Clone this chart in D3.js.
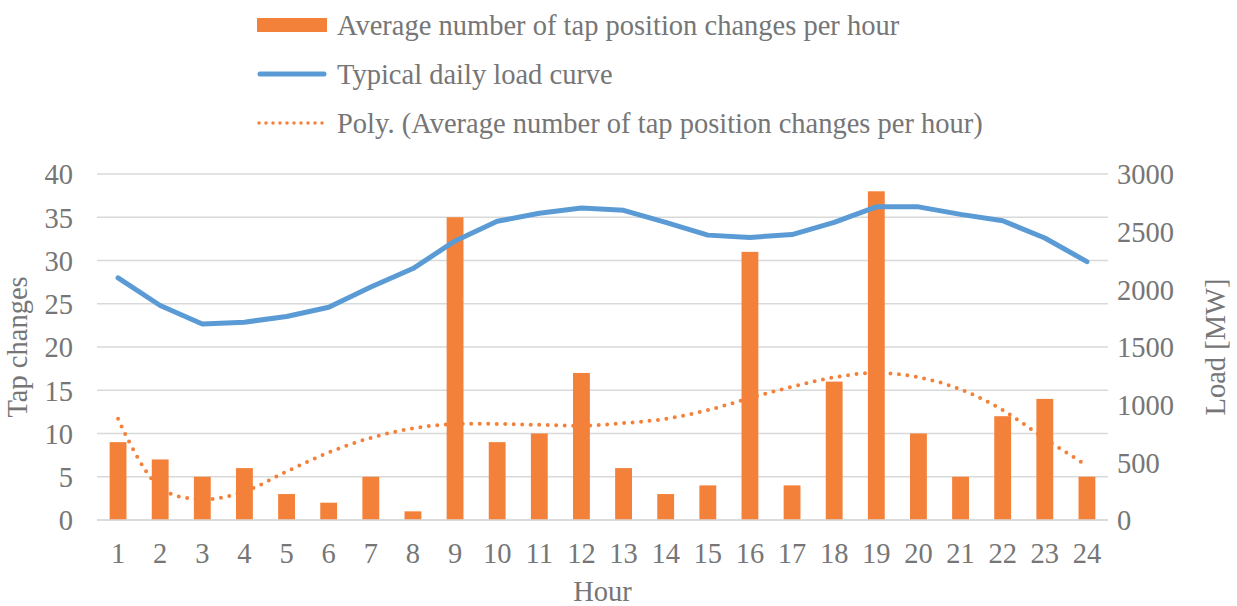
<!DOCTYPE html>
<html>
<head>
<meta charset="utf-8">
<script src="https://cdn.jsdelivr.net/npm/d3@7"></script>
<style>
  body { margin: 0; background: #fff; }
  text { font-family: "Liberation Serif", "Times New Roman", serif; fill: #767676; }
</style>
</head>
<body>
<div id="chart"></div>
<script>
// data
var hours = ["1","2","3","4","5","6","7","8","9","10","11","12","13","14","15","16","17","18","19","20","21","22","23","24"];
var tapChanges = [9,7,5,6,3,2,5,1,35,9,10,17,6,3,4,31,4,16,38,10,5,12,14,5];
var loadMW = [2100,1860,1700,1715,1765,1845,2020,2180,2420,2590,2660,2705,2685,2580,2470,2450,2475,2580,2715,2715,2650,2595,2445,2240];
var polyTrend = [11.7,3.7,2.4,3.3,5.6,7.8,9.5,10.6,11.1,11.1,11.0,10.9,11.2,11.7,12.7,14.1,15.4,16.5,17.0,16.5,15.1,12.7,9.4,6.3];
var leftTicks = [0,5,10,15,20,25,30,35,40];
var rightTicks = [0,500,1000,1500,2000,2500,3000];
var legendLabels = ["Average number of tap position changes per hour", "Typical daily load curve", "Poly. (Average number of tap position changes per hour)"];

var W = 1237, H = 606;
var margin = { top: 174, right: 129, bottom: 86, left: 97 };
var width = W - margin.left - margin.right;
var height = H - margin.top - margin.bottom;
var orange = "#F4813A", blue = "#5B9BD5";
var fs = "28.5px";

var svg = d3.select("#chart").append("svg")
    .attr("width", W)
    .attr("height", H);

var g = svg.append("g")
    .attr("transform", "translate(" + margin.left + "," + margin.top + ")");

var x = d3.scaleBand().domain(hours).range([0, width]).paddingInner(0.6).paddingOuter(0.3);
var xc = function (h) { return x(h) + x.bandwidth() / 2; };
var yL = d3.scaleLinear().domain([0, 40]).range([height, 0]);
var yR = d3.scaleLinear().domain([0, 3000]).range([height, 0]);

// gridlines
g.append("g").selectAll("line")
    .data(leftTicks)
    .enter().append("line")
    .attr("x1", 0).attr("x2", width)
    .attr("y1", function (d) { return yL(d); })
    .attr("y2", function (d) { return yL(d); })
    .attr("stroke", "#D9D9D9")
    .attr("stroke-width", 1.5);

// left axis
var yAxisL = d3.axisLeft(yL).tickValues(leftTicks).tickSize(0).tickPadding(24);
var gL = g.append("g").call(yAxisL);
gL.select(".domain").remove();
gL.selectAll("text").style("font-size", fs).attr("fill", "#767676").attr("dy", "0.35em");

// right axis
var yAxisR = d3.axisRight(yR).tickValues(rightTicks).tickFormat(d3.format("d")).tickSize(0).tickPadding(9);
var gR = g.append("g").attr("transform", "translate(" + width + ",0)").call(yAxisR);
gR.select(".domain").remove();
gR.selectAll("text").style("font-size", fs).attr("fill", "#767676").attr("dy", "0.35em");

// x axis
var xAxis = d3.axisBottom(x).tickSize(0).tickPadding(23);
var gX = g.append("g").attr("transform", "translate(0," + height + ")").call(xAxis);
gX.select(".domain").remove();
gX.selectAll("text").style("font-size", fs).attr("fill", "#767676");

// bars
g.append("g").selectAll("rect")
    .data(tapChanges)
    .enter().append("rect")
    .attr("x", function (d, i) { return x(hours[i]); })
    .attr("width", x.bandwidth())
    .attr("y", function (d) { return yL(d); })
    .attr("height", function (d) { return height - yL(d); })
    .attr("fill", orange);

// baseline
g.append("line")
    .attr("x1", 0).attr("x2", width)
    .attr("y1", height).attr("y2", height)
    .attr("stroke", "#D9D9D9").attr("stroke-width", 1.5);

// polynomial trend (dotted)
var trendLine = d3.line()
    .x(function (d, i) { return xc(hours[i]); })
    .y(function (d) { return yL(d); })
    .curve(d3.curveCatmullRom.alpha(0.5));
g.append("path")
    .datum(polyTrend)
    .attr("d", trendLine)
    .attr("fill", "none")
    .attr("stroke", orange)
    .attr("stroke-width", 4)
    .attr("stroke-linecap", "round")
    .attr("stroke-dasharray", "0 8.5");

// load curve
var loadLine = d3.line()
    .x(function (d, i) { return xc(hours[i]); })
    .y(function (d) { return yR(d); });
g.append("path")
    .datum(loadMW)
    .attr("d", loadLine)
    .attr("fill", "none")
    .attr("stroke", blue)
    .attr("stroke-width", 5)
    .attr("stroke-linejoin", "round")
    .attr("stroke-linecap", "round");

// axis titles
svg.append("text")
    .attr("transform", "translate(27," + (margin.top + height / 2) + ") rotate(-90)")
    .attr("text-anchor", "middle")
    .style("font-size", fs)
    .text("Tap changes");
svg.append("text")
    .attr("transform", "translate(1225," + (margin.top + height / 2) + ") rotate(-90)")
    .attr("text-anchor", "middle")
    .style("font-size", fs)
    .text("Load [MW]");
svg.append("text")
    .attr("x", margin.left + width / 2)
    .attr("y", 601)
    .attr("text-anchor", "middle")
    .style("font-size", fs)
    .text("Hour");

// legend
var legend = svg.append("g").attr("transform", "translate(257,0)");
var rowY = [25, 74, 123];
legend.append("rect")
    .attr("x", 0).attr("y", rowY[0] - 7)
    .attr("width", 70).attr("height", 14)
    .attr("fill", orange);
legend.append("line")
    .attr("x1", 3).attr("x2", 67)
    .attr("y1", rowY[1]).attr("y2", rowY[1])
    .attr("stroke", blue).attr("stroke-width", 5).attr("stroke-linecap", "round");
legend.append("line")
    .attr("x1", 2).attr("x2", 70)
    .attr("y1", rowY[2]).attr("y2", rowY[2])
    .attr("stroke", orange).attr("stroke-width", 3.5)
    .attr("stroke-linecap", "round").attr("stroke-dasharray", "0 7");
legend.selectAll("text.lbl")
    .data(legendLabels)
    .enter().append("text")
    .attr("class", "lbl")
    .attr("x", 80)
    .attr("y", function (d, i) { return rowY[i]; })
    .attr("dy", "0.35em")
    .style("font-size", fs)
    .text(function (d) { return d; });
</script>
</body>
</html>
